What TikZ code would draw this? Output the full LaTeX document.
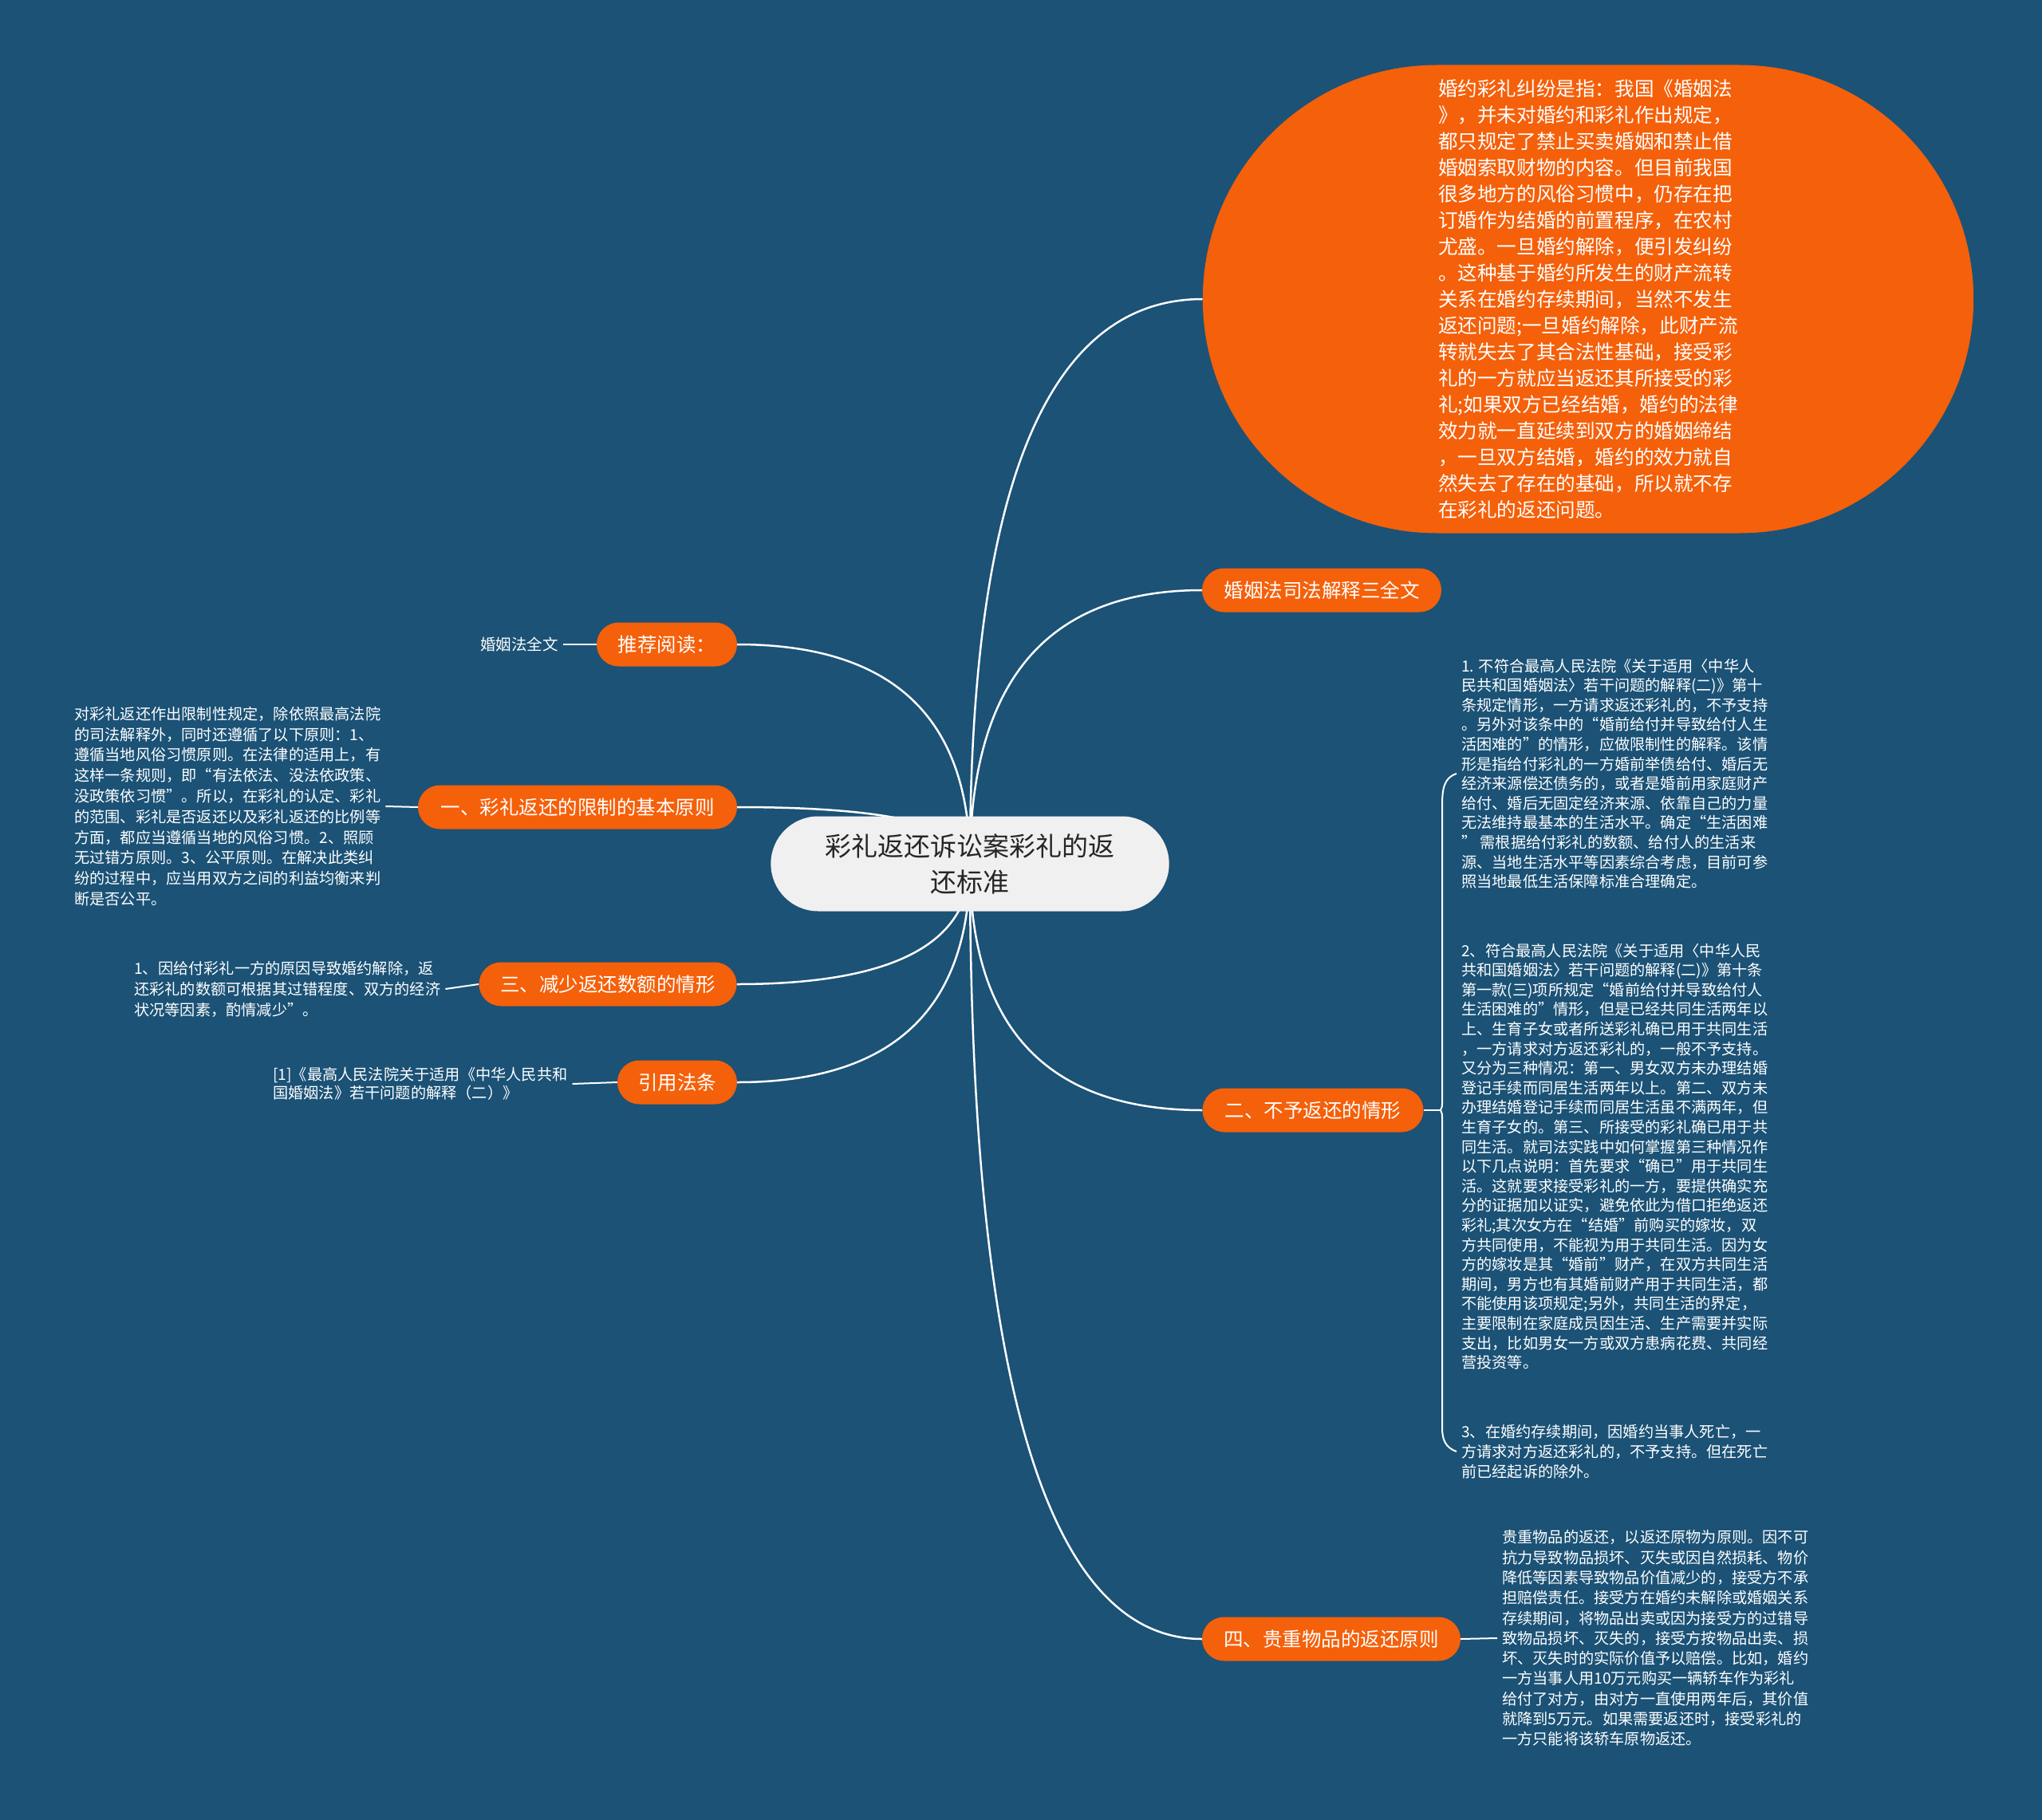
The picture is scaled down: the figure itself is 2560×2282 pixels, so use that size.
\documentclass[tikz,border=0pt]{standalone}
\usepackage{fontspec}
\setmainfont{Noto Sans CJK SC}
\usetikzlibrary{shapes.misc,calc}
\definecolor{bgblue}{HTML}{1B5276}
\definecolor{orng}{HTML}{F5600A}
\definecolor{cgray}{HTML}{F0F0F0}
\pgfdeclarelayer{bg}
\pgfdeclarelayer{edges}
\pgfsetlayers{bg,edges,main}
\begin{document}
\begin{tikzpicture}[x=1pt,y=-1pt,
  branch/.style={rounded rectangle, fill=orng, text=white, minimum height=55pt, inner xsep=2pt, inner ysep=0pt, font=\fontsize{24.5}{30}\selectfont},
  leaf/.style={text=white, align=left, inner sep=6pt},
  link/.style={white, line width=2.5pt},
  thin link/.style={white, line width=2pt},
]
\begin{pgfonlayer}{bg}
\fill[bgblue] (0,0) rectangle (2560,2282);
\end{pgfonlayer}
\useasboundingbox (0,0) rectangle (2560,2282);

% centre
\node[rounded rectangle, fill=cgray, text=black!85, minimum width=506pt, minimum height=119pt, align=center,
  font=\fontsize{33}{45}\selectfont] (c) at (1216,1083) {彩礼返还诉讼案彩礼的返\\还标准};

% big orange note
\node[rounded rectangle, fill=orng, text=white, minimum width=973pt, minimum height=587pt, align=left,
  font=\fontsize{24.6}{33}\selectfont] (ell) at (1991,375) {婚约彩礼纠纷是指：我国《婚姻法\\》，并未对婚约和彩礼作出规定，\\都只规定了禁止买卖婚姻和禁止借\\婚姻索取财物的内容。但目前我国\\很多地方的风俗习惯中，仍存在把\\订婚作为结婚的前置程序，在农村\\尤盛。一旦婚约解除，便引发纠纷\\。这种基于婚约所发生的财产流转\\关系在婚约存续期间，当然不发生\\返还问题;一旦婚约解除，此财产流\\转就失去了其合法性基础，接受彩\\礼的一方就应当返还其所接受的彩\\礼;如果双方已经结婚，婚约的法律\\效力就一直延续到双方的婚姻缔结\\，一旦双方结婚，婚约的效力就自\\然失去了存在的基础，所以就不存\\在彩礼的返还问题。};

% branches
\node[branch, minimum width=304pt] (law3) at (1657,740) {婚姻法司法解释三全文};
\node[branch, minimum width=180pt] (rec) at (836,808) {推荐阅读：};
\node[branch, minimum width=404pt] (one) at (724,1012) {一、彩礼返还的限制的基本原则};
\node[branch, minimum width=327pt] (three) at (762,1234) {三、减少返还数额的情形};
\node[branch, minimum width=154pt] (cite) at (849,1357) {引用法条};
\node[branch, minimum width=281pt] (two) at (1646,1392) {二、不予返还的情形};
\node[branch, minimum width=328pt] (four) at (1669,2055) {四、贵重物品的返还原则};

% leaves
\node[leaf, anchor=east, font=\fontsize{19.5}{24}\selectfont] (recT) at (706,808) {婚姻法全文};
\node[leaf, anchor=west, font=\fontsize{19.2}{25.8}\selectfont] (oneT) at (87,1011) {对彩礼返还作出限制性规定，除依照最高法院\\的司法解释外，同时还遵循了以下原则：1、\\遵循当地风俗习惯原则。在法律的适用上，有\\这样一条规则，即“有法依法、没法依政策、\\没政策依习惯”。所以，在彩礼的认定、彩礼\\的范围、彩礼是否返还以及彩礼返还的比例等\\方面，都应当遵循当地的风俗习惯。2、照顾\\无过错方原则。3、公平原则。在解决此类纠\\纷的过程中，应当用双方之间的利益均衡来判\\断是否公平。};
\node[leaf, anchor=west, font=\fontsize{19.2}{26}\selectfont] (threeT) at (162,1240) {1、因给付彩礼一方的原因导致婚约解除，返\\还彩礼的数额可根据其过错程度、双方的经济\\状况等因素，酌情减少”。};
\node[leaf, anchor=west, font=\fontsize{19.2}{23}\selectfont] (citeT) at (336,1359) {[1]《最高人民法院关于适用《中华人民共和\\国婚姻法》若干问题的解释（二）》};
\node[leaf, anchor=west, font=\fontsize{19.2}{24.6}\selectfont] (twoA) at (1826,970) {1. 不符合最高人民法院《关于适用〈中华人\\民共和国婚姻法〉若干问题的解释(二)》第十\\条规定情形，一方请求返还彩礼的，不予支持\\。另外对该条中的“婚前给付并导致给付人生\\活困难的”的情形，应做限制性的解释。该情\\形是指给付彩礼的一方婚前举债给付、婚后无\\经济来源偿还债务的，或者是婚前用家庭财产\\给付、婚后无固定经济来源、依靠自己的力量\\无法维持最基本的生活水平。确定“生活困难\\” 需根据给付彩礼的数额、给付人的生活来\\源、当地生活水平等因素综合考虑，目前可参\\照当地最低生活保障标准合理确定。};
\node[leaf, anchor=west, font=\fontsize{19.2}{24.6}\selectfont] (twoB) at (1826,1450) {2、符合最高人民法院《关于适用〈中华人民\\共和国婚姻法〉若干问题的解释(二)》第十条\\第一款(三)项所规定“婚前给付并导致给付人\\生活困难的”情形，但是已经共同生活两年以\\上、生育子女或者所送彩礼确已用于共同生活\\，一方请求对方返还彩礼的，一般不予支持。\\又分为三种情况：第一、男女双方未办理结婚\\登记手续而同居生活两年以上。第二、双方未\\办理结婚登记手续而同居生活虽不满两年，但\\生育子女的。第三、所接受的彩礼确已用于共\\同生活。就司法实践中如何掌握第三种情况作\\以下几点说明：首先要求“确已”用于共同生\\活。这就要求接受彩礼的一方，要提供确实充\\分的证据加以证实，避免依此为借口拒绝返还\\彩礼;其次女方在“结婚”前购买的嫁妆，双\\方共同使用，不能视为用于共同生活。因为女\\方的嫁妆是其“婚前”财产，在双方共同生活\\期间，男方也有其婚前财产用于共同生活，都\\不能使用该项规定;另外，共同生活的界定，\\主要限制在家庭成员因生活、生产需要并实际\\支出，比如男女一方或双方患病花费、共同经\\营投资等。};
\node[leaf, anchor=west, font=\fontsize{19.2}{25}\selectfont] (twoC) at (1826,1820) {3、在婚约存续期间，因婚约当事人死亡，一\\方请求对方返还彩礼的，不予支持。但在死亡\\前已经起诉的除外。};
\node[leaf, anchor=west, font=\fontsize{19.2}{25.3}\selectfont] (fourT) at (1877,2054) {贵重物品的返还，以返还原物为原则。因不可\\抗力导致物品损坏、灭失或因自然损耗、物价\\降低等因素导致物品价值减少的，接受方不承\\担赔偿责任。接受方在婚约未解除或婚姻关系\\存续期间，将物品出卖或因为接受方的过错导\\致物品损坏、灭失的，接受方按物品出卖、损\\坏、灭失时的实际价值予以赔偿。比如，婚约\\一方当事人用10万元购买一辆轿车作为彩礼\\给付了对方，由对方一直使用两年后，其价值\\就降到5万元。如果需要返还时，接受彩礼的\\一方只能将该轿车原物返还。};

% bracket coordinates
\coordinate (bj) at (1806,1392);
\coordinate (btop) at (1826,970);
\coordinate (bbot) at (1826,1820);

\begin{pgfonlayer}{edges}
\foreach \t in {ell,law3,two,four}
  \draw[link] (c.center) .. controls ($(c.center)!0.667!(c.center |- \t.west)$) and ($(\t.west)!0.667!(c.center |- \t.west)$) .. (\t.west);
\foreach \t in {rec,one,three,cite}
  \draw[link] (c.center) .. controls ($(c.center)!0.667!(c.center |- \t.east)$) and ($(\t.east)!0.667!(c.center |- \t.east)$) .. (\t.east);
\draw[thin link] (recT.east) -- (rec.west);
\draw[thin link] (oneT.east) -- (one.west);
\draw[thin link] (threeT.east) -- (three.west);
\draw[thin link] (citeT.east) -- (cite.west);
\draw[thin link] (four.east) -- (fourT.west);
\draw[thin link] (two.east) -- (bj);
\draw[thin link] (btop) .. controls (1810,975) and (1808,990) .. (1808,1010) -- (1808,1380) .. controls (1808,1388) .. (bj);
\draw[thin link] (bj) .. controls (1808,1396) .. (1808,1404) -- (1808,1790) .. controls (1808,1805) and (1812,1815) .. (bbot);
\end{pgfonlayer}
\end{tikzpicture}
\end{document}
